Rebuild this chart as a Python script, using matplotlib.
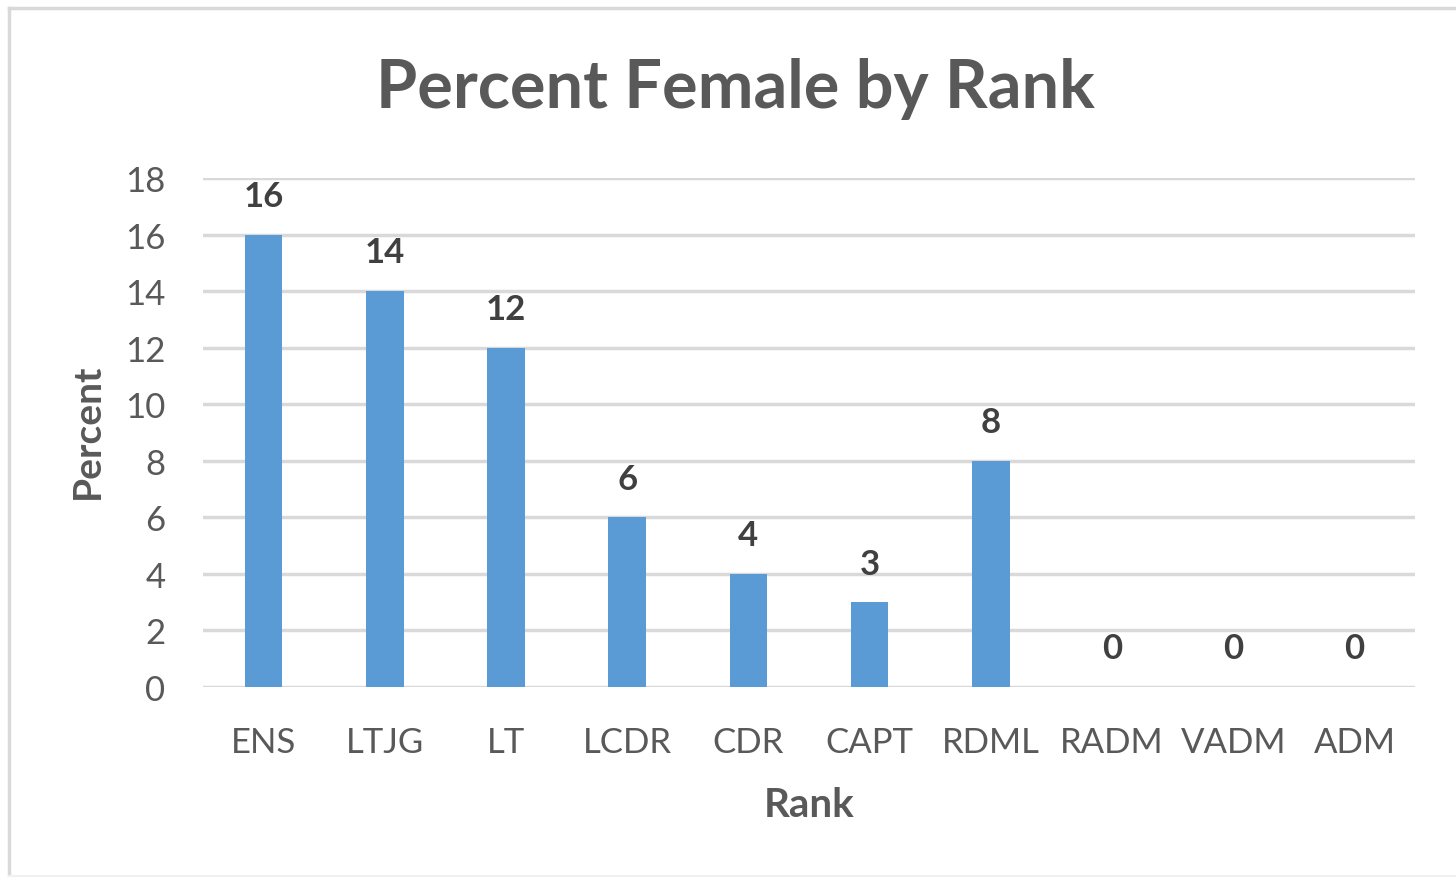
import matplotlib
matplotlib.use("Agg")
import matplotlib.pyplot as plt
from matplotlib.lines import Line2D

ranks = ["ENS", "LTJG", "LT", "LCDR", "CDR", "CAPT", "RDML", "RADM", "VADM", "ADM"]
percent = [16, 14, 12, 6, 4, 3, 8, 0, 0, 0]
yticks = [0, 2, 4, 6, 8, 10, 12, 14, 16, 18]

plt.rcParams['font.family'] = ['Lato', 'DejaVu Sans']
TXT = '#595959'
BAR = '#5B9BD5'
GRID = '#D9D9D9'

W, H = 1456, 878
fig = plt.figure(figsize=(W / 100, H / 100), dpi=100)
# outer chart frame (left and top visible, faint bottom)
fig.lines.append(Line2D([8.5 / W, 8.5 / W], [1 - 8.5 / H, 1 - 877 / H], transform=fig.transFigure,
                        color='#D9D9D9', linewidth=2.5))
fig.lines.append(Line2D([8.5 / W, 1], [1 - 8.5 / H, 1 - 8.5 / H], transform=fig.transFigure,
                        color='#D9D9D9', linewidth=2.5))
fig.lines.append(Line2D([8.5 / W, 1], [1 - 877 / H, 1 - 877 / H], transform=fig.transFigure,
                        color='#F0F0F0', linewidth=1.5))

ax = fig.add_axes([203 / W, 1 - 688 / H, (1415 - 203) / W, (688 - 179) / H])

x = list(range(len(ranks)))
ax.bar(x, percent, width=0.31, color=BAR, zorder=3)
for xi, v in zip(x, percent):
    ax.text(xi, v + 0.8, f"{v}", ha='center', va='bottom', fontsize=25, fontweight='bold', color='#404040')

ax.set_xlim(-0.5, len(ranks) - 0.5)
ax.set_ylim(0, 18)
ax.set_yticks(yticks)
ax.set_yticklabels([str(t) for t in yticks])
ax.set_xticks(x)
ax.set_xticklabels(ranks)
ax.tick_params(axis='both', length=0, labelsize=25, labelcolor=TXT)
ax.tick_params(axis='x', pad=28)
ax.tick_params(axis='y', pad=27)
ax.yaxis.grid(True, color=GRID, linewidth=2.5, zorder=0)
ax.set_axisbelow(True)
for s in ax.spines.values():
    s.set_visible(False)

ax.set_xlabel("Rank", fontsize=29, fontweight='bold', color=TXT, labelpad=20)
ax.set_ylabel("Percent", fontsize=28, fontweight='bold', color=TXT)
ax.yaxis.set_label_coords(-0.081, 0.505)
fig.text(735 / W, 1 - 89 / H, "Percent Female by Rank", ha='center', va='center',
         fontsize=48, fontweight='bold', color=TXT)

fig.savefig("out.png", dpi=100, facecolor='white')
